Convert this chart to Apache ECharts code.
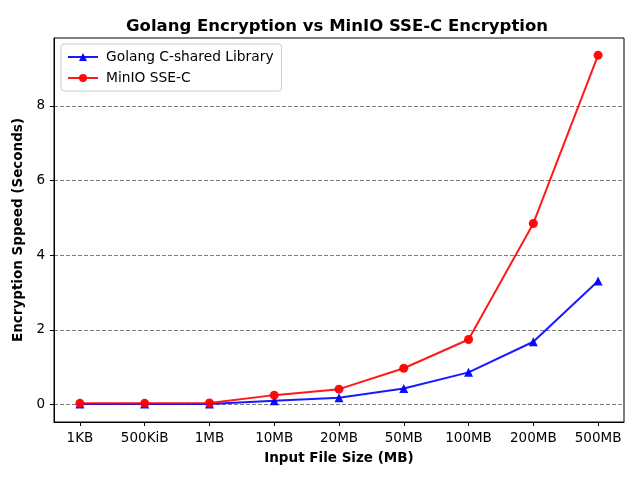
<!DOCTYPE html>
<html>
<head>
<meta charset="utf-8">
<script src="https://cdn.jsdelivr.net/npm/echarts@6/dist/echarts.min.js"></script>
<style>html,body{margin:0;padding:0;background:#fff}#c{width:640px;height:480px}</style>
</head>
<body>
<div id="c"></div>
<script>
const categories = ['1KB', '500KiB', '1MB', '10MB', '20MB', '50MB', '100MB', '200MB', '500MB'];
const golangValues = [0.01, 0.01, 0.01, 0.10, 0.18, 0.43, 0.86, 1.68, 3.31];
const minioValues = [0.03, 0.03, 0.04, 0.25, 0.41, 0.97, 1.74, 4.85, 9.36];
const yTicks = [0, 2, 4, 6, 8];

const font = 'DejaVu Sans';
const chart = echarts.init(document.getElementById('c'), null, {renderer: 'canvas'});
const idx = categories.map((_, i) => i);
chart.setOption({
  animation: false,
  backgroundColor: '#fff',
  textStyle: {fontFamily: font},
  title: {
    text: 'Golang Encryption vs MinIO SSE-C Encryption',
    left: 121, top: 13,
    textStyle: {fontFamily: font, fontSize: 16.5, fontWeight: 'bold', color: '#000'}
  },
  legend: {
    left: 61, top: 44, orient: 'vertical',
    padding: [6, 8, 6, 6], itemGap: 7, itemWidth: 30, itemHeight: 10,
    borderColor: '#cccccc', borderWidth: 1, borderRadius: 3,
    textStyle: {fontFamily: font, fontSize: 13.8, color: '#000', padding: [0, 0, 0, 3]},
    data: ['Golang C-shared Library', 'MinIO SSE-C']
  },
  grid: {left: 54, right: 16, top: 38, bottom: 58, show: true, borderColor: '#000', borderWidth: 1, containLabel: false},
  xAxis: {
    type: 'value', min: -0.4, max: 8.4,
    name: 'Input File Size (MB)', nameLocation: 'middle', nameGap: 29,
    nameTextStyle: {fontFamily: font, fontSize: 13.5, fontWeight: 'bold', color: '#000'},
    axisLine: {show: true, onZero: false, lineStyle: {color: '#000'}},
    axisTick: {show: true, length: 4, customValues: idx, lineStyle: {color: '#000'}},
    axisLabel: {customValues: idx, margin: 9, fontFamily: font, fontSize: 13.5, color: '#000',
      formatter: v => categories[Math.round(v)] || ''},
    splitLine: {show: false}
  },
  yAxis: {
    type: 'value', min: -0.47, max: 9.82,
    name: 'Encryption Sppeed (Seconds)', nameLocation: 'middle', nameGap: 24, nameRotate: 90,
    nameTextStyle: {fontFamily: font, fontSize: 13.5, fontWeight: 'bold', color: '#000'},
    axisLine: {show: true, onZero: false, lineStyle: {color: '#000'}},
    axisTick: {show: true, length: 4, customValues: yTicks, lineStyle: {color: '#000'}},
    axisLabel: {customValues: yTicks, margin: 9, fontFamily: font, fontSize: 13.5, color: '#000'},
    splitLine: {show: true, lineStyle: {color: '#808080', type: [4, 2], width: 1}}
  },
  series: [
    {
      name: 'Golang C-shared Library', type: 'line',
      data: golangValues.map((v, i) => [i, v]),
      symbol: 'triangle', symbolSize: 9,
      lineStyle: {color: '#0000ff', width: 2, opacity: 0.9},
      itemStyle: {color: '#0000ff', opacity: 0.95},
      z: 2
    },
    {
      name: 'MinIO SSE-C', type: 'line',
      data: minioValues.map((v, i) => [i, v]),
      symbol: 'circle', symbolSize: 9,
      lineStyle: {color: '#ff0000', width: 2, opacity: 0.9},
      itemStyle: {color: '#ff0000', opacity: 0.95},
      z: 3
    }
  ]
});
</script>
</body>
</html>
